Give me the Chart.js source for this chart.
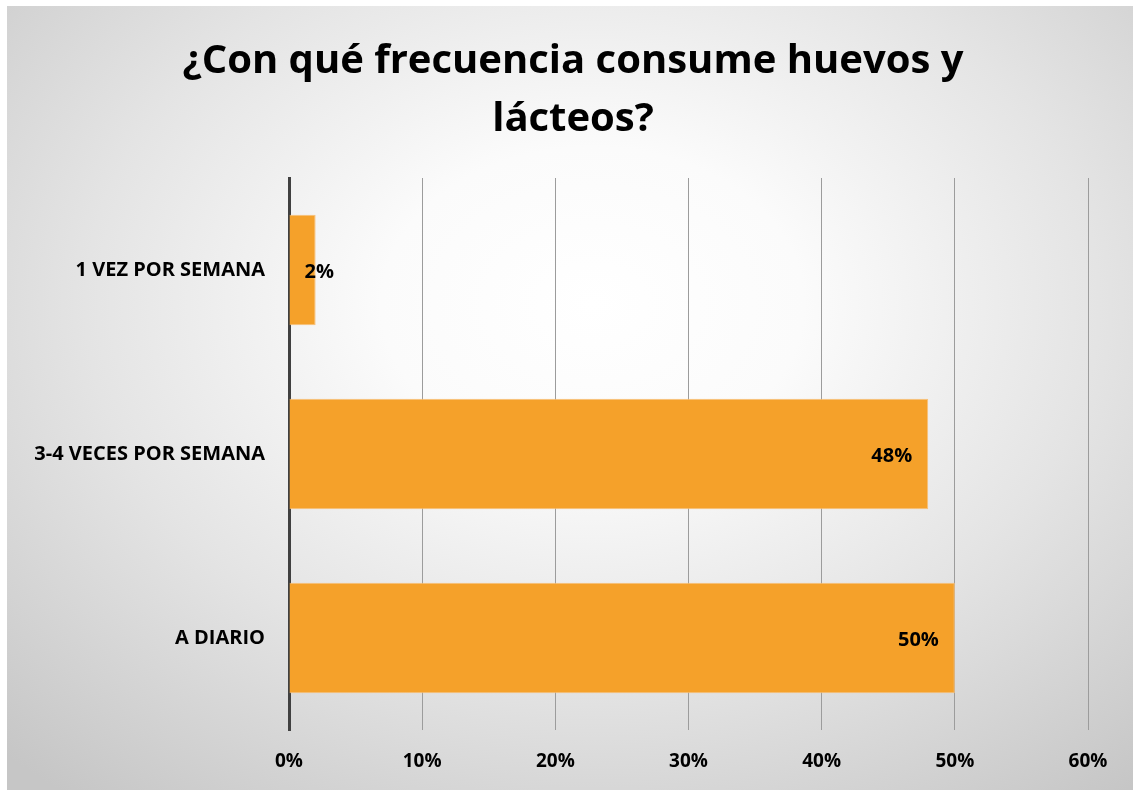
<!DOCTYPE html>
<html lang="es">
<head>
<meta charset="utf-8">
<title>Frecuencia de consumo de huevos y lácteos</title>
<script src="https://cdn.jsdelivr.net/npm/chart.js@4/dist/chart.umd.min.js"></script>
<style>
  html, body { margin: 0; padding: 0; background: #fff; }
  #marco {
    position: absolute;
    left: 7px; top: 6px;
    width: 1126px; height: 784px;
    background: radial-gradient(ellipse 75% 80% at 52% 38%, #ffffff 0%, #fbfbfb 25%, #e4e4e4 60%, #c6c6c6 100%);
  }
  #grafico { display: block; }
</style>
</head>
<body>
<div id="marco">
  <canvas id="grafico" width="1126" height="784"></canvas>
</div>
<script>
// Datos de la encuesta
const categorias = ['1 VEZ POR SEMANA', '3-4 VECES POR SEMANA', 'A DIARIO'];
const porcentajes = [2, 48, 50];
const titulo = ['¿Con qué frecuencia consume huevos y', 'lácteos?'];

const fuente = "'Open Sans', sans-serif";
const naranja = '#F5A12A';

// Etiquetas de valor dentro del extremo de cada barra
const etiquetasValor = {
    id: 'etiquetasValor',
    afterDatasetsDraw(chart) {
        const ctx = chart.ctx;
        const meta = chart.getDatasetMeta(0);
        ctx.save();
        ctx.font = 'bold 20px ' + fuente;
        ctx.fillStyle = '#000';
        ctx.textBaseline = 'middle';
        ctx.textAlign = 'left';
        meta.data.forEach((bar, i) => {
            const texto = porcentajes[i] + '%';
            const ancho = ctx.measureText(texto).width;
            let x = bar.x - 16 - ancho;
            if (x < bar.base + 15) x = bar.base + 15;
            ctx.fillText(texto, x, bar.y + 2);
        });
        ctx.restore();
    }
};

const ctx = document.getElementById('grafico').getContext('2d');
new Chart(ctx, {
    type: 'bar',
    data: {
        labels: categorias,
        datasets: [{
            data: porcentajes,
            backgroundColor: naranja,
            borderColor: '#F8C078',
            borderWidth: 1,
            borderSkipped: 'start',
            barPercentage: 0.6,
            categoryPercentage: 1
        }]
    },
    options: {
        indexAxis: 'y',
        responsive: false,
        animation: false,
        layout: { padding: { left: 6, right: 0, top: 0, bottom: 0 } },
        plugins: {
            legend: { display: false },
            tooltip: { enabled: false },
            title: {
                display: true,
                text: titulo,
                color: '#000',
                font: { family: fuente, size: 40, weight: 'bold', lineHeight: 1.45 },
                padding: { top: 27, bottom: 29 }
            }
        },
        scales: {
            x: {
                min: 0,
                max: 60,
                afterFit: (scale) => {
                    scale.height = 60;
                    scale.paddingRight = 45; // hueco a la derecha del 60%
                },
                ticks: {
                    stepSize: 10,
                    color: '#000',
                    padding: 20,
                    font: { family: fuente, size: 19, weight: 'bold' },
                    callback: v => v + '%'
                },
                grid: { color: '#9c9c9c', lineWidth: 1, drawTicks: false },
                border: { display: false }
            },
            y: {
                afterFit: (scale) => { scale.width = 276; },
                ticks: {
                    color: '#000',
                    padding: 24,
                    font: { family: fuente, size: 20, weight: 'bold' }
                },
                grid: { display: false, drawTicks: false },
                border: { color: '#404040', width: 3 }
            }
        }
    },
    plugins: [etiquetasValor]
});
</script>
</body>
</html>
